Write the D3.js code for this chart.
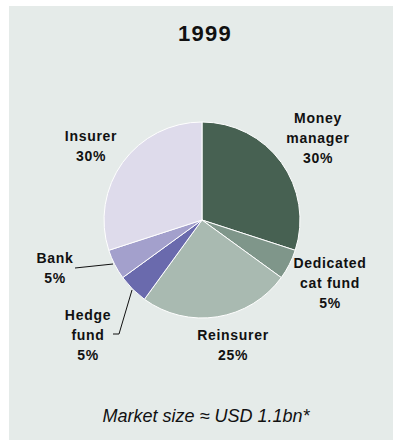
<!DOCTYPE html>
<html>
<head>
<meta charset="utf-8">
<script src="https://cdn.jsdelivr.net/npm/d3@7"></script>
<style>
  html, body { margin: 0; padding: 0; background: #ffffff; }
  svg { display: block; }
  text { font-family: "Liberation Sans", Arial, sans-serif; fill: #111; }
</style>
</head>
<body>
<svg id="chart" width="393" height="441"></svg>
<script>
// Cat bond investors by type, 1999
const categories = ["Money manager", "Dedicated cat fund", "Reinsurer", "Hedge fund", "Bank", "Insurer"];
const shares = [30, 5, 25, 5, 5, 30];
const colors = ["#476152", "#7f968a", "#a9bab1", "#6a6aad", "#a3a0cc", "#dedbeb"];
const labelLines = [
  ["Money", "manager", "30%"],
  ["Dedicated", "cat fund", "5%"],
  ["Reinsurer", "25%"],
  ["Hedge", "fund", "5%"],
  ["Bank", "5%"],
  ["Insurer", "30%"]
];
const title = "1999";
const footnote = "Market size \u2248 USD 1.1bn*";

const svg = d3.select("#chart");

// panel background
svg.append("rect")
  .attr("x", 9).attr("y", 6)
  .attr("width", 384).attr("height", 434)
  .attr("fill", "#e5ebe9");

svg.append("text")
  .attr("x", 205).attr("y", 41)
  .attr("text-anchor", "middle")
  .style("font-size", "22px").style("font-weight", "bold")
  .style("letter-spacing", "1.3px")
  .text(title);

const cx = 202, cy = 220, radius = 98;

const pie = d3.pie().sort(null).value(d => d.value);
const arc = d3.arc().innerRadius(0).outerRadius(radius);
const data = categories.map((c, i) => ({ name: c, value: shares[i], color: colors[i], lines: labelLines[i] }));

const g = svg.append("g").attr("transform", `translate(${cx},${cy})`);
g.selectAll("path")
  .data(pie(data))
  .join("path")
  .attr("d", arc)
  .attr("fill", d => d.data.color)
  .attr("stroke", "#ffffff")
  .attr("stroke-width", 1);

// label anchors (centre x, first line centre y)
const labelPos = [
  [318, 118],
  [330, 263],
  [233, 335],
  [88, 315],
  [55, 258],
  [91, 136]
];
const lineH = 20;

data.forEach((d, i) => {
  const t = svg.append("text")
    .attr("text-anchor", "middle")
    .style("font-size", "14px").style("font-weight", "bold")
    .style("letter-spacing", "0.7px");
  d.lines.forEach((ln, j) => {
    t.append("tspan")
      .attr("x", labelPos[i][0])
      .attr("y", labelPos[i][1] + j * lineH + 5)
      .text(ln);
  });
});

// leader lines
const leaders = [
  [[75, 268], [113, 264]],
  [[113, 334], [119, 334], [132, 290]]
];
const line = d3.line();
leaders.forEach(pts => {
  svg.append("path")
    .attr("d", line(pts))
    .attr("fill", "none")
    .attr("stroke", "#111")
    .attr("stroke-width", 1);
});

svg.append("text")
  .attr("x", 206).attr("y", 422)
  .attr("text-anchor", "middle")
  .style("font-size", "18px").style("font-style", "italic")
  .text(footnote);
</script>
</body>
</html>
